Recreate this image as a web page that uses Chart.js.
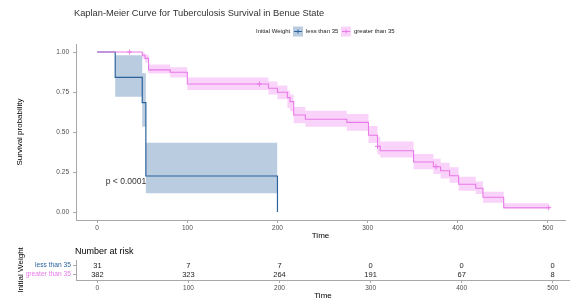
<!DOCTYPE html>
<html>
<head>
<meta charset="utf-8">
<script src="https://cdn.jsdelivr.net/npm/chart.js@4/dist/chart.umd.min.js"></script>
<style>
  body { margin: 0; background: #fff; }
  #wrap { position: relative; width: 570px; height: 302px; }
  canvas { position: absolute; left: 0; }
  #km { top: 0; }
  #risk { top: 242px; }
</style>
</head>
<body>
<div id="wrap">
  <canvas id="km" width="570" height="242"></canvas>
  <canvas id="risk" width="570" height="60"></canvas>
</div>
<script>
// group labels
const groups = ['less than 35', 'greater than 35'];

// KM steps, "less than 35"
const lessTime  = [0, 20, 50, 54, 200];
const lessSurv  = [1, 0.842, 0.683, 0.225, 0];
const lessUpper = [1, 0.98, 0.867, 0.433, 0.433];
const lessLower = [1, 0.72, 0.533, 0.117, 0.117];

// KM steps, "greater than 35"
const greaterTime  = [0, 50, 53, 57, 81, 100, 190, 200, 211, 214, 218, 231, 277, 301, 311, 314, 351, 373, 381, 391, 401, 420, 428, 451, 501];
const greaterSurv  = [1, 0.98, 0.96, 0.888, 0.873, 0.8, 0.773, 0.748, 0.715, 0.69, 0.606, 0.58, 0.56, 0.48, 0.41, 0.383, 0.3125, 0.283, 0.258, 0.227, 0.173, 0.148, 0.092, 0.027, 0.027];
const greaterUpper = [1, 0.995, 0.985, 0.922, 0.905, 0.84, 0.815, 0.79, 0.76, 0.735, 0.656, 0.633, 0.612, 0.537, 0.47, 0.44, 0.363, 0.333, 0.308, 0.279, 0.22, 0.19, 0.127, 0.054, 0.054];
const greaterLower = [1, 0.96, 0.935, 0.865, 0.84, 0.763, 0.735, 0.704, 0.65, 0.63, 0.554, 0.533, 0.508, 0.432, 0.36, 0.34, 0.267, 0.238, 0.21, 0.183, 0.133, 0.112, 0.058, 0.019, 0.019];

// censored observations (marked with +)
const greaterCensorTime = [36, 180, 311, 376, 501];
const greaterCensorSurv = [1, 0.8, 0.41, 0.283, 0.027];

// number at risk table
const riskTimes   = [0, 100, 200, 300, 400, 500];
const riskLess    = [31, 7, 7, 0, 0, 0];
const riskGreater = [382, 323, 264, 191, 67, 8];

const xTicks = [0, 100, 200, 300, 400, 500];
const yTicks = [0, 0.25, 0.5, 0.75, 1];

const FONT = '"Liberation Sans", Arial, sans-serif';
const blue = '#2c639c', blueBand = 'rgba(46,100,160,0.33)';
const pink = '#e97ae9', pinkBand = 'rgba(238,130,238,0.35)';
const axisGrey = '#a8a8a8', tickText = '#4d4d4d';

function pts(xs, ys) {
  return xs.map((x, i) => ({ x: x, y: ys[i] }));
}

function timeAxis() {
  return {
    type: 'linear', min: -23.5, max: 519,
    afterBuildTicks: s => { s.ticks = xTicks.map(v => ({ value: v })); },
    afterFit: s => { s.height = 22; },
    border: { color: axisGrey },
    grid: { drawOnChartArea: false, tickLength: 3, color: axisGrey },
    ticks: { font: { family: FONT, size: 6.5 }, color: tickText, padding: 1, maxRotation: 0 },
    title: { display: true, text: 'Time', font: { family: FONT, size: 8 }, color: '#000', padding: { top: 0, bottom: 1 } }
  };
}

const header = {
  id: 'header',
  afterDatasetsDraw(chart) {
    const ctx = chart.ctx;
    const x = chart.scales.x, y = chart.scales.y;
    ctx.save();
    ctx.textBaseline = 'middle';
    ctx.textAlign = 'left';

    ctx.fillStyle = '#333';
    ctx.font = '9.3px ' + FONT;
    ctx.fillText('Kaplan-Meier Curve for Tuberculosis Survival in Benue State', 74, 13);

    // legend
    ctx.font = '6px ' + FONT;
    ctx.fillStyle = '#222';
    ctx.fillText('Initial Weight', 256, 31.5);
    const keys = [[293, blue, blueBand, groups[0]], [341, pink, pinkBand, groups[1]]];
    keys.forEach(k => {
      ctx.fillStyle = k[2];
      ctx.fillRect(k[0], 26.5, 10, 10);
      ctx.strokeStyle = k[1];
      ctx.lineWidth = 1;
      ctx.beginPath();
      ctx.moveTo(k[0] + 1, 31.5); ctx.lineTo(k[0] + 9, 31.5);
      ctx.moveTo(k[0] + 5, 29.5); ctx.lineTo(k[0] + 5, 33.5);
      ctx.stroke();
      ctx.fillStyle = '#222';
      ctx.fillText(k[3], k[0] + 13, 31.5);
    });

    ctx.fillStyle = '#333';
    ctx.font = '8.5px ' + FONT;
    ctx.fillText('p < 0.0001', x.getPixelForValue(9.5), y.getPixelForValue(0.192));
    ctx.restore();
  }
};

new Chart(document.getElementById('km'), {
  type: 'line',
  data: {
    datasets: [
      { data: pts(greaterTime, greaterSurv), borderColor: pink, borderWidth: 1.1, stepped: true, pointRadius: 0, fill: false, order: 0 },
      { data: pts(lessTime, lessSurv), borderColor: blue, borderWidth: 1.2, stepped: true, pointRadius: 0, fill: false, order: 1 },
      { type: 'scatter', data: pts(greaterCensorTime, greaterCensorSurv), pointStyle: 'cross', pointRadius: 2.5, borderColor: pink, borderWidth: 1, order: 0 },
      { data: pts(lessTime, lessUpper), borderWidth: 0, stepped: true, pointRadius: 0, fill: '+1', backgroundColor: blueBand, order: 3 },
      { data: pts(lessTime, lessLower), borderWidth: 0, stepped: true, pointRadius: 0, fill: false, order: 3 },
      { data: pts(greaterTime, greaterUpper), borderWidth: 0, stepped: true, pointRadius: 0, fill: '+1', backgroundColor: pinkBand, order: 2 },
      { data: pts(greaterTime, greaterLower), borderWidth: 0, stepped: true, pointRadius: 0, fill: false, order: 2 }
    ]
  },
  options: {
    responsive: false,
    animation: false,
    devicePixelRatio: 1,
    layout: { padding: { top: 44, left: 0, right: 0, bottom: 0 } },
    plugins: { legend: { display: false }, title: { display: false }, tooltip: { enabled: false } },
    scales: {
      x: timeAxis(),
      y: {
        type: 'linear', min: -0.05, max: 1.05,
        afterBuildTicks: s => { s.ticks = yTicks.map(v => ({ value: v })); },
        afterFit: s => { s.width = 76; },
        border: { color: axisGrey },
        grid: { drawOnChartArea: false, tickLength: 3, color: axisGrey },
        ticks: { font: { family: FONT, size: 6.5 }, color: tickText, padding: 4, callback: v => v.toFixed(2) },
        title: { display: true, text: 'Survival probability', font: { family: FONT, size: 8 }, color: '#000', padding: { top: 15, bottom: 0 } }
      }
    }
  },
  plugins: [header]
});

// risk table: one invisible point per cell, text drawn on it
const riskRows = [riskLess, riskGreater];
const riskPoints = [];
riskRows.forEach((row, r) => {
  row.forEach((n, i) => riskPoints.push({ x: riskTimes[i], y: 2 - r, n: n }));
});

const riskText = {
  id: 'riskText',
  afterDatasetsDraw(chart) {
    const ctx = chart.ctx;
    const meta = chart.getDatasetMeta(0);
    ctx.save();
    ctx.textBaseline = 'middle';
    ctx.textAlign = 'center';
    ctx.fillStyle = '#222';
    ctx.font = '7.5px ' + FONT;
    meta.data.forEach((el, i) => {
      ctx.fillText(String(riskPoints[i].n), el.x, el.y);
    });
    ctx.textAlign = 'left';
    ctx.fillStyle = '#000';
    ctx.font = '9px ' + FONT;
    ctx.fillText('Number at risk', chart.chartArea.left - 1, 10);
    ctx.restore();
  }
};

new Chart(document.getElementById('risk'), {
  type: 'scatter',
  data: { datasets: [{ data: riskPoints, pointRadius: 0 }] },
  options: {
    responsive: false,
    animation: false,
    devicePixelRatio: 1,
    layout: { padding: { top: 18, left: 0, right: 0, bottom: 0 } },
    plugins: { legend: { display: false }, tooltip: { enabled: false } },
    scales: {
      x: timeAxis(),
      y: {
        type: 'linear', min: 0.4, max: 2.6,
        afterBuildTicks: s => { s.ticks = [{ value: 1 }, { value: 2 }]; },
        afterFit: s => { s.width = 76; },
        border: { color: axisGrey },
        grid: { drawOnChartArea: false, tickLength: 3, color: axisGrey },
        ticks: {
          font: { family: FONT, size: 6.7 }, padding: 2,
          color: c => (c.tick && c.tick.value === 2) ? blue : pink,
          callback: v => v === 2 ? groups[0] : groups[1]
        },
        title: { display: true, text: 'Initial Weight', font: { family: FONT, size: 8 }, color: '#000', padding: { top: 16, bottom: 0 } }
      }
    }
  },
  plugins: [riskText]
});
</script>
</body>
</html>
